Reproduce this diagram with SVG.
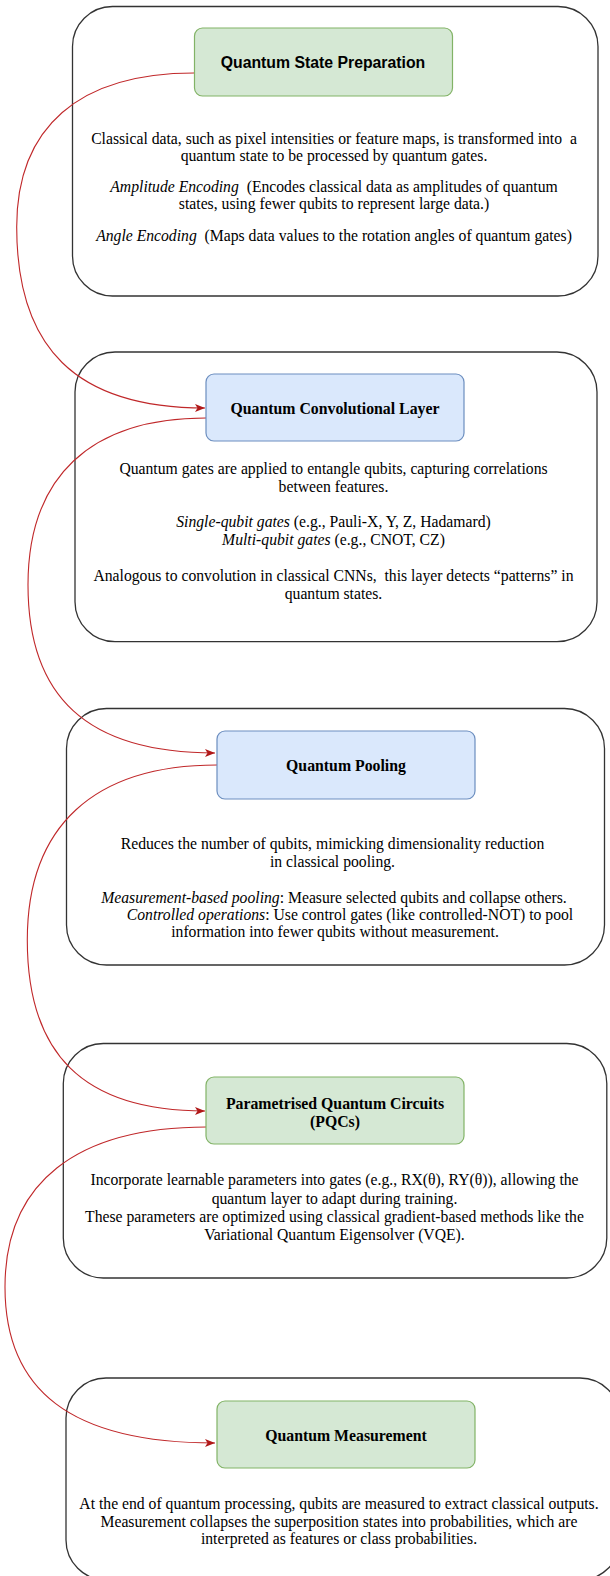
<svg xmlns="http://www.w3.org/2000/svg" width="610" height="1576" viewBox="0 0 610 1576">
<style>
.outer{fill:#ffffff;stroke:#333333;stroke-width:1.3}
.green{fill:#d5e8d4;stroke:#82b366;stroke-width:1.2}
.blue{fill:#dae8fc;stroke:#6c8ebf;stroke-width:1.2}
.body{font-family:"Liberation Serif","Times New Roman",serif;font-size:15.7px;fill:#000;text-anchor:middle;white-space:pre}
.hdr{font-family:"Liberation Serif","Times New Roman",serif;font-size:15.8px;font-weight:bold;fill:#000;text-anchor:middle}
.hdrs{font-family:"Liberation Sans",Arial,sans-serif;font-size:15.8px;font-weight:bold;fill:#000;text-anchor:middle}
.edge{fill:none;stroke:#c0282a;stroke-width:1.1}
</style>
<defs>
<marker id="arr" viewBox="0 0 10 8" refX="10" refY="4" markerWidth="10" markerHeight="8" markerUnits="userSpaceOnUse" orient="auto">
<path d="M0,0 L10,4 L0,8 L2.5,4 Z" fill="#b01818"/>
</marker>
</defs>

<g id="containers">
<rect id="box1" class="outer" x="72.5" y="6.5" width="525.5" height="289.5" rx="40"/>
<rect id="box2" class="outer" x="75" y="352" width="522" height="289.7" rx="40"/>
<rect id="box3" class="outer" x="66.5" y="708.5" width="538" height="256.5" rx="40"/>
<rect id="box4" class="outer" x="63.3" y="1043.5" width="543.5" height="234.5" rx="40"/>
<rect id="box5" class="outer" x="66" y="1378" width="554" height="202" rx="40"/>
</g>

<g id="connectors">
<path class="edge" d="M194,73 C79,73 16.7,127 16.7,227 C16.7,347 75,408 205,408" marker-end="url(#arr)"/>
<path class="edge" d="M206,418 C90,418 28,477 28,585 C28,696 86,753 215,753" marker-end="url(#arr)"/>
<path class="edge" d="M217,765 C94,765 27.3,826 27.3,940 C27.3,1053 82,1111 205,1111" marker-end="url(#arr)"/>
<path class="edge" d="M206.7,1127 C76,1127 5,1183 5,1287 C5,1390 70,1443 215,1443" marker-end="url(#arr)"/>
</g>

<g id="node1">
<rect class="green" x="194.5" y="28" width="258" height="68" rx="8"/>
<text class="hdrs" x="323" y="68">Quantum State Preparation</text>
<text class="body" x="334" y="144.3">Classical data, such as pixel intensities or feature maps, is transformed into  a</text>
<text class="body" x="334" y="161">quantum state to be processed by quantum gates.</text>
<text class="body" x="334" y="191.7"><tspan font-style="italic">Amplitude Encoding</tspan>  (Encodes classical data as amplitudes of quantum</text>
<text class="body" x="334" y="208.5">states, using fewer qubits to represent large data.)</text>
<text class="body" x="334" y="241"><tspan font-style="italic">Angle Encoding</tspan>  (Maps data values to the rotation angles of quantum gates)</text>
</g>

<g id="node2">
<rect class="blue" x="206" y="374" width="258" height="67" rx="8"/>
<text class="hdr" x="335" y="413.5">Quantum Convolutional Layer</text>
<text class="body" x="333.5" y="474">Quantum gates are applied to entangle qubits, capturing correlations</text>
<text class="body" x="333.5" y="491.5">between features.</text>
<text class="body" x="333.5" y="526.5"><tspan font-style="italic">Single-qubit gates</tspan> (e.g., Pauli-X, Y, Z, Hadamard)</text>
<text class="body" x="333.5" y="545"><tspan font-style="italic">Multi-qubit gates</tspan> (e.g., CNOT, CZ)</text>
<text class="body" x="333.5" y="580.5">Analogous to convolution in classical CNNs,  this layer detects “patterns” in</text>
<text class="body" x="333.5" y="598.5">quantum states.</text>
</g>

<g id="node3">
<rect class="blue" x="217" y="731" width="258" height="68" rx="8"/>
<text class="hdr" x="346" y="770.5">Quantum Pooling</text>
<text class="body" x="332.5" y="848.5">Reduces the number of qubits, mimicking dimensionality reduction</text>
<text class="body" x="332.5" y="866.5">in classical pooling.</text>
<text class="body" x="334" y="902.5"><tspan font-style="italic">Measurement-based pooling</tspan>: Measure selected qubits and collapse others.</text>
<text class="body" x="350" y="920"><tspan font-style="italic">Controlled operations</tspan>: Use control gates (like controlled-NOT) to pool</text>
<text class="body" x="335" y="936.5">information into fewer qubits without measurement.</text>
</g>

<g id="node4">
<rect class="green" x="206" y="1077" width="258" height="67" rx="8"/>
<text class="hdr" x="335" y="1108.5">Parametrised Quantum Circuits</text>
<text class="hdr" x="335" y="1126.5">(PQCs)</text>
<text class="body" x="334.5" y="1185">Incorporate learnable parameters into gates (e.g., RX(θ), RY(θ)), allowing the</text>
<text class="body" x="334.5" y="1203.5">quantum layer to adapt during training.</text>
<text class="body" x="334.5" y="1221.5">These parameters are optimized using classical gradient-based methods like the</text>
<text class="body" x="334.5" y="1239.5">Variational Quantum Eigensolver (VQE).</text>
</g>

<g id="node5">
<rect class="green" x="217" y="1401" width="258" height="67" rx="8"/>
<text class="hdr" x="346" y="1440.5">Quantum Measurement</text>
<text class="body" x="339" y="1509">At the end of quantum processing, qubits are measured to extract classical outputs.</text>
<text class="body" x="339" y="1526.5">Measurement collapses the superposition states into probabilities, which are</text>
<text class="body" x="339" y="1544">interpreted as features or class probabilities.</text>
</g>
</svg>
